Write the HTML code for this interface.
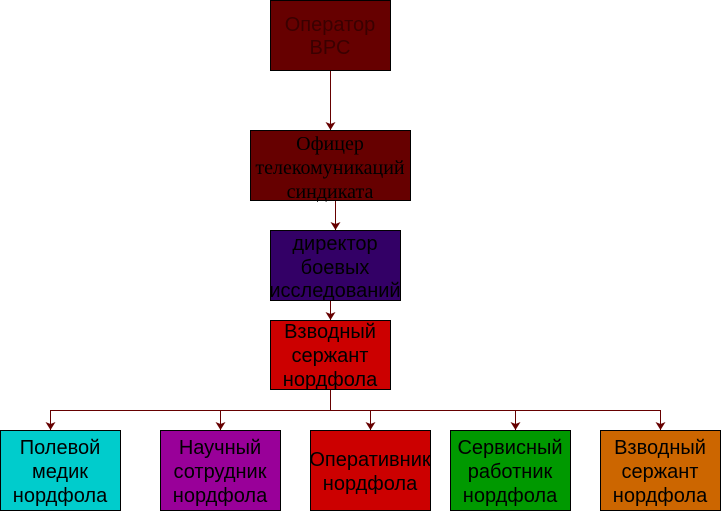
<!DOCTYPE html>
<html><head><meta charset="utf-8"><style>
body{margin:0;width:721px;height:511px;background:#fff;overflow:hidden}
svg{display:block}
</style></head><body>
<svg width="721" height="511" xmlns="http://www.w3.org/2000/svg">
<defs>
<marker id="b" viewBox="0 0 10 10" markerWidth="10" markerHeight="10" refX="5" refY="10" orient="0" markerUnits="userSpaceOnUse"><path d="M0,2 L5,10 L10,2 L5,4 Z" fill="#660000"/></marker></defs>
<g stroke="#660000" stroke-width="1" fill="none">
<path d="M330.5 70 V130" marker-end="url(#b)"/>
<path d="M335.5 200 V230" marker-end="url(#b)"/>
<path d="M330.5 300 V320" marker-end="url(#b)"/>
<path d="M330.5 389 V410.5 M50.5 410.5 H660.5"/>
<path d="M50.5 410 V430" marker-end="url(#b)"/>
<path d="M220.5 410 V430" marker-end="url(#b)"/>
<path d="M370.5 410 V430" marker-end="url(#b)"/>
<path d="M515.5 410 V430" marker-end="url(#b)"/>
<path d="M660.5 410 V430" marker-end="url(#b)"/>
</g>
<g stroke="#000" stroke-width="1">
<rect x="270.5" y="0.5" width="120" height="70" fill="#660000"/>
<rect x="250.5" y="130.5" width="160" height="70" fill="#660000"/>
<rect x="270.5" y="230.5" width="130" height="70" fill="#330066"/>
<rect x="270.5" y="320.5" width="120" height="69" fill="#CC0000"/>
<rect x="0.5" y="430.5" width="120" height="80" fill="#00CCCC"/>
<rect x="160.5" y="430.5" width="120" height="80" fill="#990099"/>
<rect x="310.5" y="430.5" width="120" height="80" fill="#CC0000"/>
<rect x="450.5" y="430.5" width="120" height="80" fill="#009900"/>
<rect x="600.5" y="430.5" width="120" height="80" fill="#CC6600"/>
</g>
<g font-family="Liberation Sans, sans-serif" font-size="20" text-anchor="middle" fill="#000">
<text x="330" y="31" fill="#3a0000">Оператор</text><text x="330" y="54" fill="#3a0000">ВРС</text>
<text x="335" y="250">директор</text><text x="335" y="274">боевых</text><text x="335" y="297">исследований</text>
<text x="330" y="338">Взводный</text><text x="330" y="362">сержант</text><text x="330" y="386">нордфола</text>
<text x="60" y="454">Полевой</text><text x="60" y="478">медик</text><text x="60" y="502">нордфола</text>
<text x="220" y="454">Научный</text><text x="220" y="478">сотрудник</text><text x="220" y="502">нордфола</text>
<text x="370" y="466">Оперативник</text><text x="370" y="490">нордфола</text>
<text x="510" y="454">Сервисный</text><text x="510" y="478">работник</text><text x="510" y="502">нордфола</text>
<text x="660" y="454">Взводный</text><text x="660" y="478">сержант</text><text x="660" y="502">нордфола</text>
</g>
<g font-family="Liberation Serif, serif" font-size="20" text-anchor="middle" fill="#000">
<text x="330" y="150">Офицер</text><text x="330" y="174">телекомуникаций</text><text x="330" y="198">синдиката</text>
</g>
</svg>
</body></html>
